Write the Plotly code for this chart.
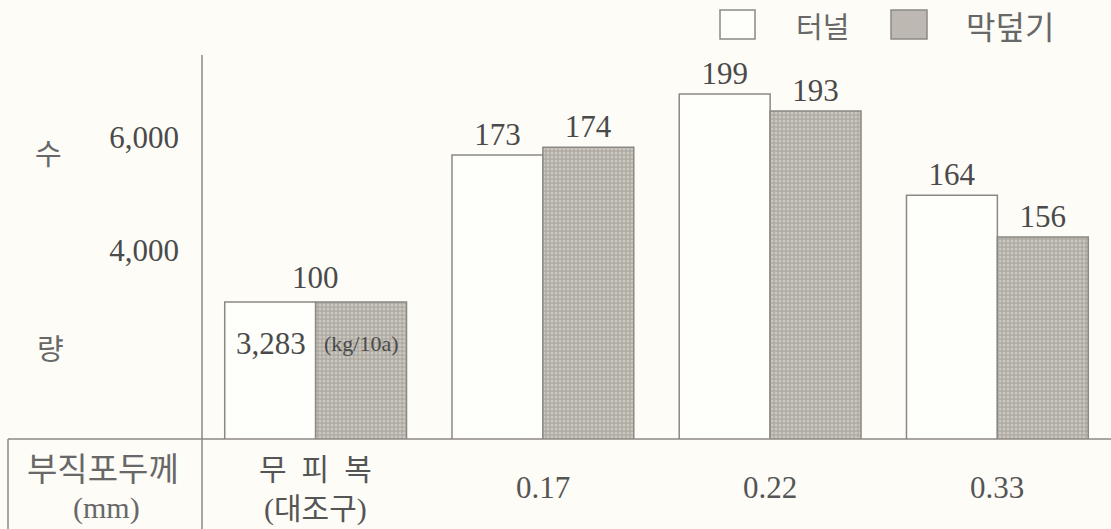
import plotly.graph_objects as go

# ---- data ----
categories = ["무피복", "0.17", "0.22", "0.33"]
table_labels = ["무\u2002피\u2002복<br>(대조구)", "0.17", "0.22", "0.33"]
tunnel_values = [3080, 5680, 6760, 4970]      # 터널 (kg/10a)
mulch_values = [3080, 5820, 6460, 4230]       # 막덮기
tunnel_index = ["", "173", "199", "164"]      # index labels (control = 100)
mulch_index = ["", "174", "193", "156"]
control_index = "100"
control_yield = "3,283"
unit_text = "(kg/10a)"
y_tick_vals = [4000, 6000]
y_tick_text = ["4,000", "6,000"]
series_names = ["터널", "막덮기"]

BG = "#fdfcf7"
LINE = "#8c8984"
TXT = "#4a4a4a"
KTXT = "#686868"
SERIF = "Liberation Serif, Noto Sans CJK KR, serif"
KR = "Noto Sans CJK KR, sans-serif"

fig = go.Figure()
fig.add_trace(go.Bar(
    x=categories, y=tunnel_values, name=series_names[0],
    text=tunnel_index, textposition="outside",
    textfont=dict(family=SERIF, size=31, color=TXT),
    marker=dict(color="#fefefb", line=dict(color=LINE, width=1.5)),
    cliponaxis=False,
))
fig.add_trace(go.Bar(
    x=categories, y=mulch_values, name=series_names[1],
    text=mulch_index, textposition="outside",
    textfont=dict(family=SERIF, size=31, color=TXT),
    marker=dict(color="#b9b5ae", line=dict(color=LINE, width=1.5),
                pattern=dict(shape=".", size=4, solidity=0.45,
                             fgcolor="#e6e3dc", bgcolor="#aeaaa3", fillmode="overlay")),
    cliponaxis=False,
))

# plot area in pixels: x 202..1111, y 55..439
W, H = 1111, 529
L, R, T, B = 202, 0, 55, 90
pw, ph = W - L - R, H - T - B
def px(xp):
    return (xp - L) / pw
def py(yp):
    return (H - B - yp) / ph

shapes = [
    dict(type="line", xref="paper", yref="paper", x0=0, x1=0, y0=py(529), y1=py(55),
         line=dict(color=LINE, width=1.5)),
    dict(type="line", xref="paper", yref="paper", x0=px(8), x1=1, y0=0, y1=0,
         line=dict(color=LINE, width=1.5)),
    dict(type="line", xref="paper", yref="paper", x0=px(8), x1=px(8), y0=py(529), y1=0,
         line=dict(color=LINE, width=1.5)),
    dict(type="rect", xref="paper", yref="paper", x0=px(720), x1=px(755), y0=py(39), y1=py(10),
         fillcolor="#fefefb", line=dict(color=LINE, width=1.5)),
    dict(type="rect", xref="paper", yref="paper", x0=px(891), x1=px(927), y0=py(39), y1=py(10),
         fillcolor="#bdb9b2", line=dict(color=LINE, width=1.5)),
]

annotations = [
    dict(xref="paper", yref="paper", x=px(822), y=py(25), text=series_names[0], showarrow=False,
         font=dict(family=KR, size=29, color=KTXT), xanchor="center", yanchor="middle"),
    dict(xref="paper", yref="paper", x=px(1010), y=py(25), text=series_names[1], showarrow=False,
         font=dict(family=KR, size=32, color=KTXT), xanchor="center", yanchor="middle"),
    dict(xref="paper", yref="paper", x=px(48), y=py(152), text="수", showarrow=False,
         font=dict(family=KR, size=29, color=KTXT), xanchor="center", yanchor="middle"),
    dict(xref="paper", yref="paper", x=px(50), y=py(347), text="량", showarrow=False,
         font=dict(family=KR, size=29, color=KTXT), xanchor="center", yanchor="middle"),
    dict(xref="paper", yref="paper", x=px(103), y=py(467), text="부직포두께", showarrow=False,
         font=dict(family=KR, size=33, color=KTXT), xanchor="center", yanchor="middle"),
    dict(xref="paper", yref="paper", x=px(106), y=py(508), text="(mm)", showarrow=False,
         font=dict(family=SERIF, size=30, color=KTXT), xanchor="center", yanchor="middle"),
    dict(x=0, y=tunnel_values[0], xref="x", yref="y", text=control_index,
         showarrow=False, yshift=24, font=dict(family=SERIF, size=31, color=TXT),
         xanchor="center", yanchor="middle"),
    dict(x=0, y=tunnel_values[0], xref="x", yref="y", text=control_yield,
         showarrow=False, xshift=-45, yshift=-42, font=dict(family=SERIF, size=31, color=TXT),
         xanchor="center", yanchor="middle"),
    dict(x=0, y=mulch_values[0], xref="x", yref="y", text=unit_text,
         showarrow=False, xshift=46, yshift=-42, font=dict(family=SERIF, size=22, color=TXT),
         xanchor="center", yanchor="middle"),
]
for i, lab in enumerate(table_labels):
    two = "<br>" in lab
    annotations.append(dict(
        x=i, xref="x", yref="paper", y=py(489 if two else 487), text=lab, showarrow=False,
        font=dict(family=SERIF, size=30 if two else 31, color="#555"),
        xanchor="center", yanchor="middle",
    ))

fig.update_layout(
    width=W, height=H,
    margin=dict(l=L, r=R, t=T, b=B, pad=0),
    paper_bgcolor=BG, plot_bgcolor=BG,
    barmode="group", bargap=0.2, bargroupgap=0,
    showlegend=False,
    shapes=shapes, annotations=annotations,
    xaxis=dict(type="category", showticklabels=False, showgrid=False, zeroline=False,
               showline=False, range=[-0.5, 3.5], ticks=""),
    yaxis=dict(range=[655, 7451], tickvals=y_tick_vals, ticktext=y_tick_text,
               showgrid=False, zeroline=False, showline=False, ticks="",
               ticklabelstandoff=22,
               tickfont=dict(family=SERIF, size=31, color=TXT)),
)

fig.write_html(
    "out.html",
    config={"displayModeBar": False},
    post_script="document.body.style.margin='0';document.body.style.overflow='hidden';"
                "document.body.style.background='" + BG + "';",
)
